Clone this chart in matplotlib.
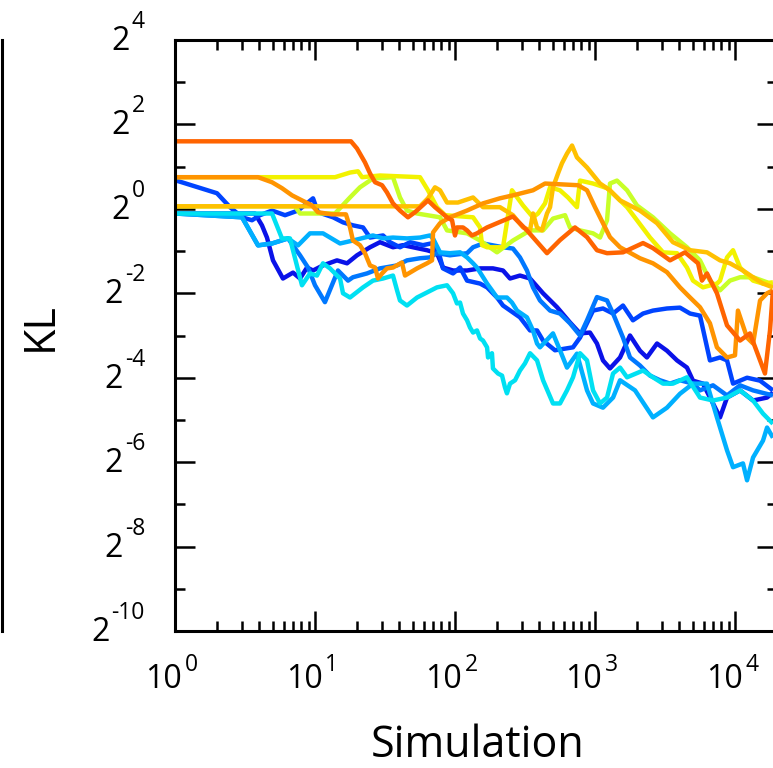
import numpy as np
import matplotlib
matplotlib.use("Agg")
import matplotlib.pyplot as plt
from matplotlib import transforms
from matplotlib.lines import Line2D
from matplotlib.ticker import FixedLocator, LogLocator, NullFormatter

plt.rcParams["font.family"] = ["Open Sans", "DejaVu Sans"]

# Each trajectory: exponents of simulation count (base 10) and KL (base 2)
sim_exp_dark_blue = [0, 0.571, 0.621, 0.657, 0.7, 0.771, 0.843, 0.893, 0.943, 0.986, 1.057, 1.157, 1.229, 1.3,
                     1.393, 1.464, 1.557, 1.629, 1.7, 1.8, 1.871, 1.914, 1.986, 2.086, 2.179, 2.271, 2.343, 2.393,
                     2.464, 2.536, 2.629, 2.729, 2.821, 2.893, 2.964, 3.014, 3.057, 3.107, 3.179, 3.25, 3.321,
                     3.371, 3.443, 3.514, 3.586, 3.657, 3.7, 3.771, 3.843, 3.893, 3.943, 4.036, 4.129, 4.229, 4.271]
kl_exp_dark_blue = [-0.11, -0.11, -0.39, -0.68, -1.22, -1.65, -1.51, -1.65, -1.39, -1.46, -1.34, -1.22, -1.29,
                    -1.10, -0.91, -0.79, -0.91, -0.86, -0.91, -0.98, -1.05, -1.39, -1.46, -1.46, -1.41, -1.41,
                    -1.46, -1.65, -1.58, -1.65, -2.00, -2.33, -2.69, -2.95, -2.93, -3.19, -3.59, -3.78, -3.52,
                    -3.00, -3.36, -3.52, -3.19, -3.36, -3.59, -3.76, -4.07, -4.14, -4.61, -4.94, -4.47, -4.30,
                    -4.54, -4.47, -4.35]

sim_exp_blue = [0, 0.3, 0.393, 0.479, 0.55, 0.607, 0.693, 0.786, 0.879, 0.986, 1.021, 1.129, 1.2, 1.271, 1.343,
                1.393, 1.486, 1.536, 1.607, 1.679, 1.771, 1.843, 1.893, 1.914, 1.986, 2.036, 2.086, 2.179, 2.229,
                2.3, 2.343, 2.464, 2.536, 2.586, 2.629, 2.714, 2.843, 2.893, 2.986, 3.057, 3.129, 3.2, 3.271,
                3.343, 3.414, 3.514, 3.607, 3.679, 3.75, 3.821, 3.893, 3.943, 3.986, 4.086, 4.179, 4.271]
kl_exp_blue = [0.68, 0.37, 0.04, -0.20, -0.27, -0.15, -0.04, -0.15, -0.04, 0.25, -0.08, -0.20, -0.32, -0.39,
               -0.44, -0.68, -0.63, -0.79, -0.91, -0.79, -0.86, -0.81, -1.15, -1.41, -1.53, -1.39, -1.70, -1.77,
               -1.86, -2.10, -2.29, -2.57, -2.88, -2.88, -3.12, -3.35, -3.28, -3.05, -2.41, -2.36, -2.48, -2.29,
               -2.64, -2.48, -2.41, -2.36, -2.34, -2.48, -2.53, -3.59, -3.52, -3.59, -4.14, -4.00, -4.07, -4.30]

sim_exp_azure = [0, 0.479, 0.593, 0.693, 0.807, 0.893, 0.95, 1.0, 1.071, 1.164, 1.236, 1.271, 1.371, 1.464, 1.586,
                 1.657, 1.75, 1.821, 1.871, 1.964, 2.086, 2.129, 2.2, 2.271, 2.343, 2.414, 2.464, 2.514, 2.557,
                 2.607, 2.679, 2.75, 2.821, 2.893, 2.943, 3.014, 3.086, 3.129, 3.2, 3.25, 3.321, 3.393, 3.464,
                 3.536, 3.607, 3.7, 3.75, 3.843, 3.943, 4.036, 4.129, 4.271]
kl_exp_azure = [-0.11, -0.20, -0.865, -0.82, -0.70, -1.10, -1.39, -1.81, -2.21, -1.46, -1.70, -1.62, -1.53, -1.41,
                -1.34, -1.22, -1.17, -1.15, -1.05, -1.10, -1.05, -0.91, -0.82, -0.865, -0.91, -0.94, -1.15, -1.46,
                -1.86, -2.17, -2.41, -2.48, -2.71, -3.00, -2.64, -2.09, -2.17, -2.48, -3.05, -3.52, -3.71, -3.95,
                -4.06, -4.14, -4.06, -4.14, -4.30, -4.18, -4.42, -4.18, -4.30, -4.42]

sim_exp_sky = [0, 0.479, 0.593, 0.693, 0.807, 0.879, 0.964, 1.057, 1.179, 1.271, 1.414, 1.486, 1.557, 1.657, 1.75,
               1.821, 1.843, 1.893, 1.964, 2.036, 2.086, 2.129, 2.157, 2.229, 2.264, 2.3, 2.371, 2.407, 2.443,
               2.514, 2.557, 2.586, 2.607, 2.7, 2.75,
               2.8, 2.871, 2.943, 2.986, 3.057, 3.129, 3.179, 3.286, 3.414, 3.514, 3.607, 3.7, 3.8, 3.871, 3.943,
               3.986, 4.057, 4.086, 4.129, 4.2, 4.229, 4.271]
kl_exp_sky = [-0.11, -0.20, -0.865, -0.82, -0.70, -0.865, -0.58, -0.58, -0.82, -0.75, -0.63, -0.70, -0.68, -0.70,
              -0.68, -0.63, -0.70, -1.03, -1.05, -1.03, -1.15, -1.29, -1.39, -1.77, -1.93, -2.10, -2.10, -2.22,
              -2.41, -2.57, -2.88, -3.19, -3.28,
              -2.95, -3.35, -3.76, -3.43, -4.30, -4.61, -4.71, -4.47, -4.06, -4.30, -4.94, -4.71, -4.38, -4.14,
              -4.14, -4.94, -5.72, -6.12, -6.03, -6.43, -5.89, -5.49, -5.18, -5.42]

sim_exp_cyan = [0, 0.693, 0.764, 0.821, 0.907, 0.964, 1.014, 1.057, 1.107, 1.179, 1.2, 1.25, 1.343, 1.414, 1.486,
                1.557, 1.586, 1.607, 1.657, 1.729, 1.8, 1.871, 1.943, 1.986, 2.014, 2.036, 2.057, 2.086, 2.107,
                2.129, 2.157, 2.179, 2.2, 2.229, 2.236, 2.264, 2.271, 2.307, 2.336, 2.357, 2.371, 2.393, 2.429,
                2.464, 2.5, 2.536, 2.586, 2.629, 2.7, 2.75, 2.8, 2.843, 2.893, 2.943,
                2.986, 3.036, 3.086, 3.129, 3.179, 3.229, 3.343, 3.414, 3.486, 3.557, 3.657, 3.75, 3.843, 3.943,
                4.036, 4.129, 4.2, 4.271]
kl_exp_cyan = [-0.11, -0.11, -0.70, -0.70, -1.81, -1.53, -1.58, -1.29, -1.41, -1.65, -2.00, -2.10, -1.86, -1.70,
               -1.65, -1.58, -1.93, -2.17, -2.29, -2.10, -1.98, -1.86, -1.81, -2.00, -2.24, -2.22, -2.48, -2.64,
               -2.81, -2.93, -2.88, -3.07, -3.12, -3.28, -3.52, -3.42, -3.78, -3.90, -3.95, -4.23, -4.37, -4.14,
               -4.06, -3.83, -3.66, -3.42, -3.59, -4.06, -4.61, -4.61, -4.30, -3.99,
               -3.42, -3.59, -4.30, -4.61, -4.47, -3.90, -3.76, -3.99, -3.83, -3.99, -4.14, -4.14, -3.99, -4.47,
               -4.54, -4.47, -4.30, -4.54, -4.85, -5.09]

sim_exp_lime = [0, 0.857, 0.893, 1.143, 1.25, 1.321, 1.414, 1.557, 1.607, 1.657, 1.729, 1.893, 1.943, 2.086,
                2.179, 2.3, 2.414, 2.536, 2.629, 2.7, 2.786, 2.821, 2.893, 2.986, 3.036, 3.086, 3.107, 3.157,
                3.229, 3.3, 3.414, 3.536, 3.657, 3.75, 3.821, 3.893, 3.964, 4.036, 4.129, 4.229, 4.271]
kl_exp_lime = [0.06, 0.06, -0.11, -0.11, 0.27, 0.51, 0.72, 0.75, 0.27, -0.04, -0.11, -0.20, -0.51, -0.58, -0.75,
               -1.03, -0.75, -0.51, -0.51, -0.23, -0.15, -0.44, -0.51, -0.58, -0.68, -0.27, 0.60, 0.67, 0.44,
               0.08, -0.20, -0.58, -0.91, -1.22, -1.70, -1.93, -1.70, -1.62, -1.62, -1.74, -1.86]

sim_exp_yellow = [0, 1.143, 1.25, 1.307, 1.336, 1.464, 1.75, 1.807, 1.871, 1.929, 2.129, 2.179, 2.193, 2.229,
                  2.343, 2.407, 2.486, 2.557, 2.593, 2.643, 2.679, 2.75, 2.807, 2.871, 2.893, 2.986, 3.086, 3.157,
                  3.229, 3.3, 3.393, 3.486, 3.586, 3.657, 3.7, 3.771, 3.871, 3.893, 3.943, 3.986, 4.036, 4.129,
                  4.2, 4.271]
kl_exp_yellow = [0.75, 0.75, 0.86, 0.89, 0.75, 0.79, 0.75, 0.44, 0.04, -0.15, -0.20, -0.44, -0.86, -0.91, -0.91,
                 0.44, 0.08, -0.20, -0.11, 0.13, 0.51, 0.44, 0.27, 0.04, 0.67, 0.60, 0.49, 0.27, 0.04, -0.27,
                 -0.68, -1.03, -1.05, -1.39, -1.70, -1.86, -1.77, -1.70, -1.15, -0.98, -1.39, -1.70, -1.77, -1.74]

sim_exp_gold = [0, 1.75, 1.807, 1.857, 1.893, 1.943, 2.021, 2.129, 2.2, 2.321, 2.414, 2.486, 2.536, 2.557, 2.586,
                2.621, 2.657, 2.679, 2.7, 2.736, 2.764, 2.8, 2.836, 2.871, 2.943, 3.036, 3.107, 3.179, 3.321,
                3.443, 3.557, 3.679, 3.8, 3.893, 3.964, 4.057, 4.129, 4.2, 4.271]
kl_exp_gold = [0.06, 0.06, 0.25, 0.51, 0.44, 0.15, 0.15, 0.27, 0.04, 0.04, -0.15, -0.44, -0.51, -0.11, -0.44,
               -0.51, -0.11, 0.04, 0.51, 0.84, 1.08, 1.31, 1.50, 1.22, 0.98, 0.60, 0.44, 0.20, -0.04, -0.34,
               -0.79, -0.98, -1.03, -1.22, -1.29, -1.46, -1.62, -1.77, -1.86]

sim_exp_orange = [0, 0.593, 0.693, 0.764, 0.836, 0.907, 0.979, 1.021, 1.121, 1.221, 1.25, 1.271, 1.321, 1.357,
                  1.393, 1.429, 1.45, 1.479, 1.514, 1.557, 1.621, 1.643, 1.729, 1.8, 1.836, 1.843, 1.893, 1.964,
                  2.086, 2.2, 2.321, 2.414, 2.557, 2.643, 2.879, 2.943, 3.0, 3.057, 3.107, 3.179, 3.321, 3.414,
                  3.514, 3.607, 3.679, 3.75, 3.821, 3.871, 3.943, 4.0, 4.021, 4.086, 4.129, 4.179, 4.229, 4.271]
kl_exp_orange = [0.75, 0.75, 0.63, 0.49, 0.32, 0.20, 0.08, -0.08, -0.13, -0.13, -0.44, -0.75, -0.86, -1.05, -1.34,
                 -1.39, -1.65, -1.53, -1.41, -1.39, -1.27, -1.58, -1.41, -1.29, -1.22, -0.56, -0.34, -0.20, -0.04,
                 0.13, 0.25, 0.32, 0.44, 0.60, 0.56, 0.44, 0.04, -0.34, -0.67, -0.91, -1.17, -1.29, -1.50, -1.86,
                 -2.10, -2.33, -2.71, -3.28, -3.52, -3.47, -2.41, -3.05, -3.19, -2.17, -2.00, -1.93]

sim_exp_red_orange = [0, 1.257, 1.30, 1.357, 1.393, 1.429, 1.479, 1.514, 1.557, 1.607, 1.664, 1.714, 1.807, 1.857,
                      1.943, 1.979, 2.0, 2.014, 2.057, 2.086, 2.121, 2.157, 2.229, 2.3, 2.414, 2.514, 2.657, 2.75,
                      2.857, 2.943, 3.014, 3.086, 3.2, 3.343, 3.414, 3.536, 3.643, 3.736, 3.764, 3.8, 3.871, 3.943,
                      4.036, 4.107, 4.179, 4.214, 4.25, 4.271]
kl_exp_red_orange = [1.60, 1.60, 1.43, 1.10, 0.84, 0.63, 0.56, 0.39, 0.13, -0.04, -0.20, -0.08, 0.20, 0.04, -0.20,
                     -0.27, -0.63, -0.44, -0.44, -0.51, -0.63, -0.58, -0.44, -0.34, -0.18, -0.51, -1.05, -0.74,
                     -0.44, -0.67, -0.98, -1.05, -1.03, -0.81, -0.93, -1.22, -1.03, -1.29, -1.70, -1.53, -2.00,
                     -2.76, -3.12, -2.95, -3.59, -3.90, -2.88, -1.93]

series = [
    (sim_exp_dark_blue, kl_exp_dark_blue, "#0a12e8"),
    (sim_exp_blue, kl_exp_blue, "#0044ff"),
    (sim_exp_azure, kl_exp_azure, "#0078ff"),
    (sim_exp_sky, kl_exp_sky, "#00b0ff"),
    (sim_exp_cyan, kl_exp_cyan, "#00e0f2"),
    (sim_exp_lime, kl_exp_lime, "#c8ff28"),
    (sim_exp_yellow, kl_exp_yellow, "#f2f200"),
    (sim_exp_gold, kl_exp_gold, "#ffc000"),
    (sim_exp_orange, kl_exp_orange, "#ff9400"),
    (sim_exp_red_orange, kl_exp_red_orange, "#ff6400"),
]

y_tick_exps = list(range(-10, 5, 2))
x_tick_exps = [0, 1, 2, 3, 4]

W, H = 773, 768
fig = plt.figure(figsize=(W / 100, H / 100), dpi=100)
ax = fig.add_axes([175 / W, 137 / H, 602 / W, 591 / H])
ax.set_xscale("log")
ax.set_yscale("log", base=2)

for sx, ky, color in series:
    ax.plot(10.0 ** np.asarray(sx), 2.0 ** np.asarray(ky), color=color, lw=3.2,
            solid_joinstyle="round", solid_capstyle="butt")

ax.set_xlim(1, 10 ** 4.3)
ax.set_ylim(2.0 ** -10, 2.0 ** 4)
ax.xaxis.set_major_locator(FixedLocator([10.0 ** e for e in x_tick_exps]))
ax.xaxis.set_minor_locator(LogLocator(base=10, subs=np.arange(2, 10), numticks=100))
ax.yaxis.set_major_locator(FixedLocator([2.0 ** e for e in y_tick_exps]))
ax.yaxis.set_minor_locator(FixedLocator([2.0 ** e for e in range(-9, 4, 2)]))
for axis in (ax.xaxis, ax.yaxis):
    axis.set_major_formatter(NullFormatter())
    axis.set_minor_formatter(NullFormatter())
ax.tick_params(which="both", direction="in", top=True, right=True, width=1.8, color="black")
ax.tick_params(which="major", length=14.5)
ax.tick_params(which="minor", length=7.2)
for sp in ax.spines.values():
    sp.set_linewidth(2.2)

# Tick labels written as base + raised exponent
renderer = fig.canvas.get_renderer()
base_fs, sup_fs = 23, 16.5


def text_width(s, size):
    probe = fig.text(0, 0, s, fontsize=size)
    w = probe.get_window_extent(renderer).width
    probe.remove()
    return w


ytrans = transforms.blended_transform_factory(ax.transAxes, ax.transData)
for e in y_tick_exps:
    y = 2.0 ** e
    ws = text_width(str(e), sup_fs)
    ax.text(0, y, str(e), fontsize=sup_fs, ha="right", va="baseline",
            transform=transforms.offset_copy(ytrans, fig=fig, x=-30, y=12, units="dots"))
    ax.text(0, y, "2", fontsize=base_fs, ha="right", va="baseline",
            transform=transforms.offset_copy(ytrans, fig=fig, x=-30 - ws - 2, y=-10, units="dots"))

xtrans = transforms.blended_transform_factory(ax.transData, ax.transAxes)
for e in x_tick_exps:
    x = 10.0 ** e
    wb = text_width("10", base_fs)
    ws = text_width(str(e), sup_fs)
    left = -(wb + 3 + ws) / 2 - 3
    ax.text(x, 0, "10", fontsize=base_fs, ha="left", va="baseline",
            transform=transforms.offset_copy(xtrans, fig=fig, x=left, y=-57, units="dots"))
    ax.text(x, 0, str(e), fontsize=sup_fs, ha="left", va="baseline",
            transform=transforms.offset_copy(xtrans, fig=fig, x=left + wb + 3, y=-40, units="dots"))

fig.text(478 / W, (H - 757) / H, "Simulation", fontsize=31, ha="center", va="baseline")
fig.text(41 / W, (H - 327) / H, "KL", fontsize=31, ha="center", va="center", rotation=90)

# Right edge of the neighbouring panel
fig.add_artist(Line2D([1.5 / W, 1.5 / W], [137 / H, 728 / H], transform=fig.transFigure,
                      color="black", lw=2.2))

fig.savefig("out.png", dpi=100)
